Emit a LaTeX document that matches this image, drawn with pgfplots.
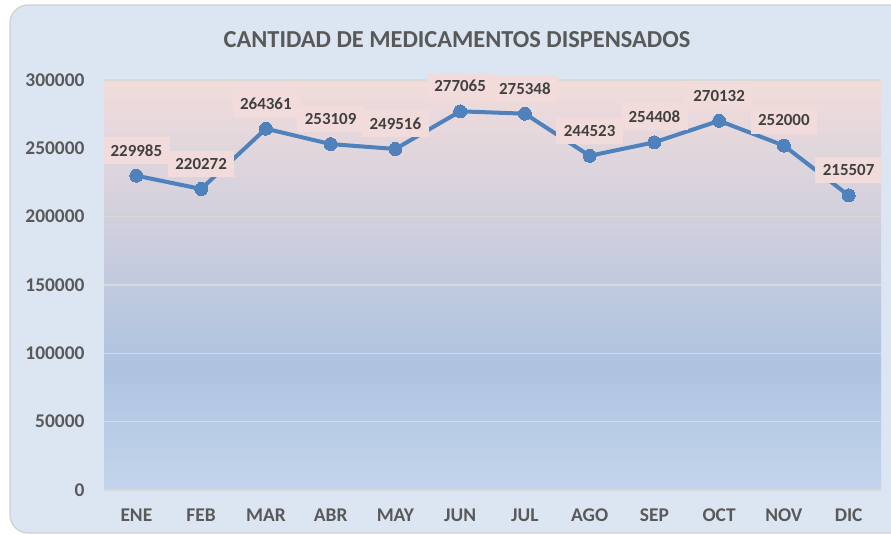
\documentclass[border=0pt]{standalone}
\usepackage{pgfplots}
\pgfplotsset{compat=1.18}
\usepackage{fontspec}
\setmainfont{Carlito}
\definecolor{bgc}{HTML}{DCE6F2}
\definecolor{framec}{HTML}{D0D0D0}
\definecolor{linec}{HTML}{4F81BD}
\definecolor{labfill}{HTML}{F2DCDB}
\definecolor{labtxt}{HTML}{404040}
\definecolor{ticktxt}{HTML}{595959}
\definecolor{gridc}{HTML}{D9D9D9}
\definecolor{shA}{HTML}{C4D5EB}
\definecolor{shB}{HTML}{ADC3E0}
\definecolor{shC}{HTML}{F2DCDB}
\pgfdeclareverticalshading{plotshade}{100bp}{color(0bp)=(shA); color(25bp)=(shA); color(40bp)=(shB); color(75bp)=(shC); color(100bp)=(shC)}
\begin{document}
\begin{tikzpicture}[x=1bp,y=1bp]
\path[use as bounding box] (0,0) rectangle (891,535);
\begin{scope}
\clip (0,0) rectangle (891,535);
\fill[white] (0,0) rectangle (891,535);
\draw[fill=bgc, draw=framec, line width=1.2bp, rounded corners=18bp] (10,2) rectangle (920,530);
\end{scope}
\node[font=\bfseries\fontsize{24.5}{28}\selectfont, text=ticktxt] at (457,495) {CANTIDAD DE MEDICAMENTOS DISPENSADOS};
\begin{axis}[
  at={(104bp,45bp)}, anchor=south west, scale only axis,
  width=777bp, height=410bp,
  xmin=-0.5, xmax=11.5, ymin=0, ymax=300000,
  xtick={0,...,11},
  xticklabels={ENE,FEB,MAR,ABR,MAY,JUN,JUL,AGO,SEP,OCT,NOV,DIC},
  ytick={0,50000,...,300000},
  scaled y ticks=false,
  yticklabel style={/pgf/number format/fixed, /pgf/number format/1000 sep={}, /pgf/number format/assume math mode=true},
  ticklabel style={font=\bfseries\fontsize{19.5}{22}\selectfont, text=ticktxt},
  xticklabel style={yshift=-15bp},
  yticklabel style={xshift=-16bp},
  axis line style={draw=none},
  major tick length=0pt,
  ymajorgrids, grid style={gridc, line width=1.2bp},
  axis background/.style={shading=plotshade},
  clip=false,
  nodes near coords={\pgfmathprintnumber[fixed,1000 sep={},assume math mode=true]{\pgfplotspointmeta}},
  nodes near coords style={anchor=south, yshift=12bp, fill=labfill, text=labtxt,
     font=\bfseries\fontsize{17}{20}\selectfont, inner xsep=7.5bp, inner ysep=7.5bp},
]
\addplot[color=linec, line width=4bp, mark=*, mark size=6.5bp, mark options={fill=linec, draw=linec, line width=0pt}]
coordinates {
(0,229985) (1,220272) (2,264361) (3,253109) (4,249516) (5,277065)
(6,275348) (7,244523) (8,254408) (9,270132) (10,252000) (11,215507)
};
\end{axis}
\end{tikzpicture}
\end{document}
